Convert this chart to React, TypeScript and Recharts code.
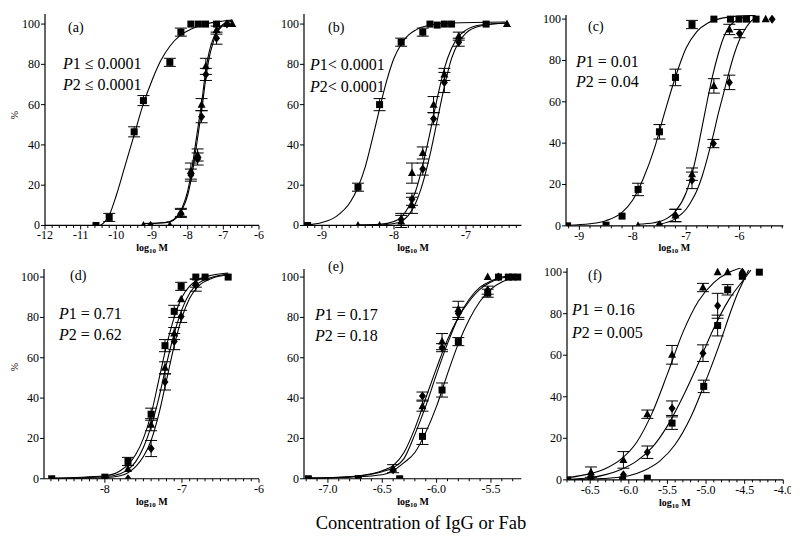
import { ComposedChart, Scatter, Line, XAxis, YAxis, ErrorBar } from 'recharts';

type Pt = { x: number; y: number; e?: number };

// ---------- panel (a)
const aSq: Pt[] = [
  { x: -10.57, y: 0 }, { x: -10.2, y: 4, e: 2 }, { x: -9.5, y: 46.5, e: 2.5 }, { x: -9.24, y: 62, e: 2.5 },
  { x: -8.5, y: 81, e: 2 }, { x: -8.19, y: 96, e: 2 }, { x: -7.91, y: 100 }, { x: -7.7, y: 100 },
  { x: -7.5, y: 100 }, { x: -7.19, y: 100 },
];
const aTri: Pt[] = [
  { x: -9.24, y: 0 }, { x: -8.5, y: 0 }, { x: -8.19, y: 6.5, e: 2 }, { x: -7.91, y: 27, e: 4 },
  { x: -7.72, y: 35, e: 3 }, { x: -7.61, y: 60, e: 3 }, { x: -7.49, y: 79, e: 4 }, { x: -7.19, y: 97, e: 2 },
  { x: -6.9, y: 100 }, { x: -6.75, y: 100 },
];
const aDia: Pt[] = [
  { x: -9.04, y: 0 }, { x: -8.19, y: 6, e: 2 }, { x: -7.91, y: 25, e: 3 }, { x: -7.72, y: 33, e: 3 },
  { x: -7.61, y: 54, e: 3 }, { x: -7.49, y: 75, e: 3 }, { x: -7.19, y: 93, e: 3 }, { x: -6.9, y: 100 },
];
const aFitSq: Pt[] = [
  { x: -10.45, y: 0 }, { x: -10.2, y: 5 }, { x: -10.0, y: 15 }, { x: -9.75, y: 30 }, { x: -9.5, y: 45 },
  { x: -9.25, y: 60 }, { x: -9.0, y: 72 }, { x: -8.75, y: 82 }, { x: -8.5, y: 89 }, { x: -8.2, y: 94.5 },
  { x: -7.9, y: 97.5 }, { x: -7.5, y: 100 }, { x: -7.0, y: 101.5 }, { x: -6.75, y: 102 },
];
const aFitTri: Pt[] = [
  { x: -9.25, y: 1 }, { x: -8.8, y: 1.2 }, { x: -8.5, y: 2 }, { x: -8.3, y: 4.5 }, { x: -8.15, y: 9 },
  { x: -8.0, y: 17 }, { x: -7.9, y: 26 }, { x: -7.8, y: 38 }, { x: -7.7, y: 50 }, { x: -7.6, y: 62 },
  { x: -7.5, y: 76 }, { x: -7.4, y: 86 }, { x: -7.3, y: 92 }, { x: -7.2, y: 96 }, { x: -7.0, y: 100 },
  { x: -6.75, y: 102 },
];
const aFitDia: Pt[] = [
  { x: -9.25, y: 1 }, { x: -8.8, y: 1.2 }, { x: -8.5, y: 1.8 }, { x: -8.3, y: 4 }, { x: -8.15, y: 8 },
  { x: -8.0, y: 15 }, { x: -7.9, y: 23 }, { x: -7.8, y: 34 }, { x: -7.7, y: 46 }, { x: -7.6, y: 58 },
  { x: -7.5, y: 72 }, { x: -7.4, y: 83 }, { x: -7.3, y: 90 }, { x: -7.2, y: 95 }, { x: -7.0, y: 99.5 },
  { x: -6.75, y: 101.5 },
];

// ---------- panel (b)
const bSq: Pt[] = [
  { x: -9.2, y: 0 }, { x: -8.5, y: 19, e: 2 }, { x: -8.2, y: 60, e: 3 }, { x: -7.9, y: 91, e: 2 },
  { x: -7.6, y: 96, e: 2 }, { x: -7.5, y: 100 }, { x: -7.4, y: 99.5 }, { x: -7.3, y: 100 },
  { x: -7.2, y: 100 }, { x: -6.72, y: 100 },
];
const bTri: Pt[] = [
  { x: -8.5, y: 0 }, { x: -8.2, y: 0 }, { x: -7.9, y: 2, e: 3 }, { x: -7.75, y: 10, e: 4 },
  { x: -7.75, y: 26, e: 5 }, { x: -7.6, y: 36, e: 3 }, { x: -7.45, y: 60, e: 4 }, { x: -7.3, y: 75, e: 3 },
  { x: -7.1, y: 94, e: 2 }, { x: -6.43, y: 100 },
];
const bDia: Pt[] = [
  { x: -7.9, y: 3, e: 3 }, { x: -7.75, y: 13, e: 3 }, { x: -7.6, y: 28, e: 3 }, { x: -7.45, y: 53, e: 3 },
  { x: -7.3, y: 71, e: 5 }, { x: -7.1, y: 91, e: 2 },
];
const bFitSq: Pt[] = [
  { x: -9.2, y: 0.3 }, { x: -9.0, y: 1.5 }, { x: -8.8, y: 4.5 }, { x: -8.6, y: 12 }, { x: -8.5, y: 19 },
  { x: -8.4, y: 29 }, { x: -8.3, y: 43 }, { x: -8.2, y: 58 }, { x: -8.1, y: 72 }, { x: -8.0, y: 83 },
  { x: -7.9, y: 90 }, { x: -7.8, y: 94.5 }, { x: -7.7, y: 97 }, { x: -7.5, y: 99.5 }, { x: -7.2, y: 100.5 },
  { x: -6.45, y: 101 },
];
const bFitTri: Pt[] = [
  { x: -8.5, y: 0.3 }, { x: -8.2, y: 0.6 }, { x: -8.0, y: 2 }, { x: -7.9, y: 4 }, { x: -7.8, y: 9 },
  { x: -7.7, y: 17 }, { x: -7.6, y: 30 }, { x: -7.5, y: 46 }, { x: -7.4, y: 63 }, { x: -7.3, y: 78 },
  { x: -7.2, y: 88 }, { x: -7.1, y: 94 }, { x: -7.0, y: 97 }, { x: -6.8, y: 99.5 }, { x: -6.43, y: 100.5 },
];
const bFitDia: Pt[] = [
  { x: -8.2, y: 0.3 }, { x: -8.0, y: 1 }, { x: -7.9, y: 2 }, { x: -7.8, y: 5 }, { x: -7.7, y: 11 },
  { x: -7.6, y: 21 }, { x: -7.5, y: 35 }, { x: -7.4, y: 52 }, { x: -7.3, y: 69 }, { x: -7.2, y: 83 },
  { x: -7.1, y: 91 }, { x: -7.0, y: 95.5 }, { x: -6.8, y: 99 }, { x: -6.43, y: 100.5 },
];

// ---------- panel (c)
const cSq: Pt[] = [
  { x: -9.22, y: 0 }, { x: -8.5, y: 0.3 }, { x: -8.2, y: 4.7 }, { x: -7.9, y: 17.6, e: 3 },
  { x: -7.5, y: 45.5, e: 3.5 }, { x: -7.2, y: 71.8, e: 4 }, { x: -6.89, y: 97.4, e: 2 }, { x: -6.48, y: 100 },
  { x: -6.17, y: 100 }, { x: -6.01, y: 100 }, { x: -5.87, y: 100 }, { x: -5.69, y: 100 },
];
const cTri: Pt[] = [
  { x: -7.9, y: 0 }, { x: -7.2, y: 5, e: 3 }, { x: -6.89, y: 25, e: 3 }, { x: -6.48, y: 67.7, e: 3.5 },
  { x: -6.19, y: 95, e: 2.5 }, { x: -5.51, y: 100 },
];
const cDia: Pt[] = [
  { x: -7.5, y: 0.5 }, { x: -7.2, y: 5, e: 3 }, { x: -6.89, y: 22, e: 4 }, { x: -6.49, y: 39.8, e: 2 },
  { x: -6.19, y: 69.4, e: 3.5 }, { x: -6.0, y: 93, e: 2 }, { x: -5.39, y: 100 },
];
const cFitSq: Pt[] = [
  { x: -9.22, y: 0.3 }, { x: -8.8, y: 1 }, { x: -8.5, y: 2.5 }, { x: -8.2, y: 6.5 }, { x: -8.0, y: 12.5 },
  { x: -7.8, y: 23 }, { x: -7.6, y: 37 }, { x: -7.4, y: 55 }, { x: -7.2, y: 72 }, { x: -7.0, y: 86 },
  { x: -6.8, y: 94 }, { x: -6.6, y: 98 }, { x: -6.4, y: 100 }, { x: -6.0, y: 101.5 }, { x: -5.7, y: 101.8 },
];
const cFitTri: Pt[] = [
  { x: -7.9, y: 0.8 }, { x: -7.6, y: 1.5 }, { x: -7.4, y: 3 }, { x: -7.2, y: 7 }, { x: -7.0, y: 16 },
  { x: -6.9, y: 24 }, { x: -6.8, y: 35 }, { x: -6.7, y: 48 }, { x: -6.6, y: 61 }, { x: -6.5, y: 73 },
  { x: -6.4, y: 83 }, { x: -6.3, y: 91 }, { x: -6.2, y: 96 }, { x: -6.0, y: 100 }, { x: -5.9, y: 101 },
];
const cFitDia: Pt[] = [
  { x: -7.5, y: 0.8 }, { x: -7.2, y: 3.5 }, { x: -7.0, y: 8 }, { x: -6.9, y: 12 }, { x: -6.8, y: 17 },
  { x: -6.7, y: 24 }, { x: -6.6, y: 33 }, { x: -6.5, y: 43 }, { x: -6.4, y: 54 }, { x: -6.3, y: 64 },
  { x: -6.2, y: 74 }, { x: -6.1, y: 83 }, { x: -6.0, y: 90 }, { x: -5.9, y: 95 }, { x: -5.8, y: 98.5 },
  { x: -5.7, y: 101 },
];

// ---------- panel (d)
const dSq: Pt[] = [
  { x: -8.69, y: 0 }, { x: -8.0, y: 0.8 }, { x: -7.7, y: 8.6, e: 2 }, { x: -7.4, y: 32, e: 3 },
  { x: -7.22, y: 66, e: 3 }, { x: -7.1, y: 83, e: 3 }, { x: -7.01, y: 95.4, e: 2 }, { x: -6.82, y: 100 },
  { x: -6.7, y: 100 }, { x: -6.4, y: 100 },
];
const dTri: Pt[] = [
  { x: -8.0, y: 0 }, { x: -7.7, y: 4.8 }, { x: -7.4, y: 26.8, e: 3 }, { x: -7.22, y: 55, e: 3 },
  { x: -7.1, y: 72, e: 3 }, { x: -7.01, y: 89 }, { x: -6.82, y: 97, e: 2 },
];
const dDia: Pt[] = [
  { x: -7.7, y: 0 }, { x: -7.4, y: 15, e: 4 }, { x: -7.22, y: 48, e: 4 }, { x: -7.1, y: 68, e: 4 },
  { x: -7.01, y: 80.5, e: 3 }, { x: -6.82, y: 96, e: 3 },
];
const dFitSq: Pt[] = [
  { x: -8.7, y: 0.3 }, { x: -8.0, y: 1.5 }, { x: -7.8, y: 4 }, { x: -7.7, y: 7 }, { x: -7.6, y: 12 },
  { x: -7.5, y: 20 }, { x: -7.4, y: 32 }, { x: -7.3, y: 49 }, { x: -7.2, y: 66 }, { x: -7.1, y: 80 },
  { x: -7.0, y: 90 }, { x: -6.9, y: 95.5 }, { x: -6.8, y: 98.5 }, { x: -6.6, y: 101 }, { x: -6.4, y: 102 },
];
const dFitTri: Pt[] = [
  { x: -8.7, y: 0.2 }, { x: -8.0, y: 1 }, { x: -7.8, y: 2.5 }, { x: -7.7, y: 4.5 }, { x: -7.6, y: 8.5 },
  { x: -7.5, y: 15.5 }, { x: -7.4, y: 26 }, { x: -7.3, y: 40 }, { x: -7.2, y: 57 }, { x: -7.1, y: 72 },
  { x: -7.0, y: 84 }, { x: -6.9, y: 92 }, { x: -6.8, y: 96.5 }, { x: -6.6, y: 100 }, { x: -6.4, y: 101.5 },
];
const dFitDia: Pt[] = [
  { x: -8.7, y: 0 }, { x: -8.0, y: 0.5 }, { x: -7.8, y: 1.5 }, { x: -7.7, y: 3 }, { x: -7.6, y: 6 },
  { x: -7.5, y: 11 }, { x: -7.4, y: 19 }, { x: -7.3, y: 32 }, { x: -7.2, y: 49 }, { x: -7.1, y: 66 },
  { x: -7.0, y: 80 }, { x: -6.9, y: 89.5 }, { x: -6.8, y: 95 }, { x: -6.6, y: 99.5 }, { x: -6.4, y: 101 },
];

// ---------- panel (e)
const eSq: Pt[] = [
  { x: -7.18, y: 0 }, { x: -6.72, y: 0 }, { x: -6.34, y: 0 }, { x: -6.13, y: 21, e: 4 },
  { x: -5.95, y: 44, e: 3.5 }, { x: -5.8, y: 68, e: 2 }, { x: -5.53, y: 92, e: 2 }, { x: -5.43, y: 100 },
  { x: -5.34, y: 100 }, { x: -5.3, y: 100 }, { x: -5.25, y: 100 },
];
const eTri: Pt[] = [
  { x: -6.4, y: 5, e: 2 }, { x: -6.13, y: 36, e: 2.5 }, { x: -5.95, y: 68, e: 4 }, { x: -5.8, y: 84, e: 4 },
  { x: -5.53, y: 100 },
];
const eDia: Pt[] = [
  { x: -6.4, y: 4.5 }, { x: -6.13, y: 41, e: 2 }, { x: -5.95, y: 65, e: 2 }, { x: -5.8, y: 82, e: 3 },
  { x: -5.53, y: 93.5, e: 2 }, { x: -5.43, y: 100 },
];
const eFitSq: Pt[] = [
  { x: -7.18, y: 0.2 }, { x: -6.8, y: 0.8 }, { x: -6.5, y: 2 }, { x: -6.4, y: 4 }, { x: -6.3, y: 8 },
  { x: -6.2, y: 13 }, { x: -6.1, y: 23 }, { x: -6.0, y: 36 }, { x: -5.9, y: 52 }, { x: -5.8, y: 67 },
  { x: -5.7, y: 79 }, { x: -5.6, y: 88 }, { x: -5.5, y: 94 }, { x: -5.4, y: 97.5 }, { x: -5.3, y: 99.5 },
  { x: -5.22, y: 100.5 },
];
const eFitTri: Pt[] = [
  { x: -7.18, y: 0.3 }, { x: -6.8, y: 1 }, { x: -6.6, y: 2.2 }, { x: -6.5, y: 3.5 }, { x: -6.4, y: 5.5 },
  { x: -6.3, y: 10 }, { x: -6.2, y: 22 }, { x: -6.1, y: 36 }, { x: -6.0, y: 52 }, { x: -5.9, y: 67 },
  { x: -5.8, y: 80 }, { x: -5.7, y: 89 }, { x: -5.6, y: 95 }, { x: -5.5, y: 98 }, { x: -5.4, y: 100 },
  { x: -5.25, y: 101 },
];
const eFitDia: Pt[] = [
  { x: -7.18, y: 0.3 }, { x: -6.8, y: 1 }, { x: -6.6, y: 2.5 }, { x: -6.5, y: 4 }, { x: -6.4, y: 6.5 },
  { x: -6.3, y: 13 }, { x: -6.2, y: 25 }, { x: -6.1, y: 40 }, { x: -6.0, y: 55 }, { x: -5.9, y: 69 },
  { x: -5.8, y: 80 }, { x: -5.7, y: 88 }, { x: -5.6, y: 94 }, { x: -5.5, y: 97.5 }, { x: -5.4, y: 99.5 },
  { x: -5.25, y: 101 },
];

// ---------- panel (f)
const fSq: Pt[] = [
  { x: -6.79, y: 0 }, { x: -6.49, y: 0 }, { x: -6.08, y: 0 }, { x: -5.76, y: 0.8 }, { x: -5.44, y: 27.3, e: 3 },
  { x: -5.03, y: 45, e: 3 }, { x: -4.85, y: 74.3, e: 5 }, { x: -4.72, y: 91.5, e: 2.5 }, { x: -4.53, y: 98 },
  { x: -4.31, y: 100 },
];
const fTri: Pt[] = [
  { x: -6.49, y: 3.7, e: 2.5 }, { x: -6.07, y: 9.6, e: 4 }, { x: -5.76, y: 31.6, e: 2 }, { x: -5.44, y: 60.2, e: 4.5 },
  { x: -5.04, y: 92.6, e: 2 }, { x: -4.85, y: 100 }, { x: -4.72, y: 100 }, { x: -4.53, y: 100 },
];
const fDia: Pt[] = [
  { x: -6.49, y: 1.6 }, { x: -6.07, y: 2.4 }, { x: -5.76, y: 13.3, e: 3 }, { x: -5.44, y: 34.5, e: 3.5 },
  { x: -5.04, y: 61, e: 4 }, { x: -4.85, y: 83.8, e: 6 }, { x: -4.53, y: 100 },
];
const fFitSq: Pt[] = [
  { x: -6.8, y: 0 }, { x: -6.4, y: 0.5 }, { x: -6.2, y: 1 }, { x: -6.0, y: 2 }, { x: -5.8, y: 4.5 },
  { x: -5.6, y: 9 }, { x: -5.4, y: 17 }, { x: -5.2, y: 30 }, { x: -5.0, y: 48 }, { x: -4.8, y: 68 },
  { x: -4.7, y: 79 }, { x: -4.6, y: 89 }, { x: -4.5, y: 97 }, { x: -4.45, y: 101 },
];
const fFitTri: Pt[] = [
  { x: -6.8, y: 1 }, { x: -6.5, y: 3 }, { x: -6.3, y: 5.5 }, { x: -6.1, y: 10 }, { x: -5.9, y: 18 },
  { x: -5.7, y: 32 }, { x: -5.5, y: 51 }, { x: -5.3, y: 71 }, { x: -5.1, y: 86 }, { x: -4.9, y: 95 },
  { x: -4.7, y: 100 }, { x: -4.55, y: 102 },
];
const fFitDia: Pt[] = [
  { x: -6.8, y: 0.3 }, { x: -6.5, y: 1 }, { x: -6.3, y: 2.5 }, { x: -6.1, y: 5 }, { x: -5.9, y: 9 },
  { x: -5.7, y: 15.5 }, { x: -5.5, y: 26 }, { x: -5.3, y: 40 }, { x: -5.1, y: 56 }, { x: -4.9, y: 73 },
  { x: -4.7, y: 87 }, { x: -4.5, y: 97 }, { x: -4.42, y: 101 },
];

// tick labels
const aTicks = [-12, -11, -10, -9, -8, -7, -6];
const bTicks = [-9, -8, -7];
const cTicks = [-9, -8, -7, -6];
const dTicks = [-8, -7, -6];
const eTicks = [-7.0, -6.5, -6.0, -5.5];
const fTicks = [-6.5, -6.0, -5.5, -5.0, -4.5, -4.0];
const yTicks = [0, 20, 40, 60, 80, 100];

const FONT = '"Liberation Serif", "Times New Roman", serif';
const YW = 40;
const MT = 6;
const MR = 8;
const XH = 30;

function Square(props: any) {
  const { cx, cy } = props;
  if (cx == null || cy == null) return null;
  return <rect x={cx - 3.5} y={cy - 3.5} width={7} height={7} fill="#000" />;
}

function Triangle(props: any) {
  const { cx, cy } = props;
  if (cx == null || cy == null) return null;
  return <polygon points={`${cx},${cy - 4.5} ${cx - 4},${cy + 3} ${cx + 4},${cy + 3}`} fill="#000" />;
}

function Diamond(props: any) {
  const { cx, cy } = props;
  if (cx == null || cy == null) return null;
  return <polygon points={`${cx},${cy - 4.5} ${cx + 3.5},${cy} ${cx},${cy + 4.5} ${cx - 3.5},${cy}`} fill="#000" />;
}

interface PanelCfg {
  left: number;
  right: number;
  zeroY: number;
  hundredY: number;
  yMax: number;
  domain: [number, number];
  majors: number[];
  step: number;
  dec: number;
  sq: Pt[];
  tri: Pt[];
  dia: Pt[];
  fits: Pt[][];
}

function Panel({ cfg }: { cfg: PanelCfg }) {
  const { left, right, zeroY, hundredY, yMax, domain, majors, step, dec, sq, tri, dia, fits } = cfg;
  const k = (zeroY - hundredY) / 100;
  const plotTop = zeroY - yMax * k;
  const plotH = zeroY - plotTop;
  const plotW = right - left;
  const axisY = MT + plotH;

  // minor ticks along x
  const xs: number[] = [];
  const start = Math.ceil(domain[0] / step - 1e-6);
  for (let i = start; i * step <= domain[1] + 1e-6; i++) xs.push(Number((i * step).toFixed(3)));
  majors.forEach((m) => { if (!xs.some((v) => Math.abs(v - m) < 1e-6)) xs.push(m); });
  xs.sort((p, q) => p - q);

  const isMajor = (v: number) => majors.some((m) => Math.abs(m - v) < 1e-6);

  const renderXTick = (p: any) => {
    const v = p.payload.value;
    const major = isMajor(v);
    return (
      <g>
        <line x1={p.x} x2={p.x} y1={axisY} y2={axisY + (major ? 4 : 2.5)} stroke="#000" strokeWidth={1} />
        {major && (
          <text x={p.x} y={axisY + 14} textAnchor="middle" fill="#000" style={{ fontFamily: FONT, fontSize: 12 }}>
            {v.toFixed(dec)}
          </text>
        )}
      </g>
    );
  };

  const renderYTick = (p: any) => (
    <g>
      <line x1={YW - 4} x2={YW} y1={p.y} y2={p.y} stroke="#000" strokeWidth={1} />
      <text x={YW - 5} y={p.y + 4} textAnchor="end" fill="#000" style={{ fontFamily: FONT, fontSize: 12 }}>
        {p.payload.value}
      </text>
    </g>
  );

  return (
    <div style={{ position: 'absolute', left: left - YW, top: plotTop - MT }}>
      <ComposedChart
        width={YW + plotW + MR}
        height={MT + plotH + XH}
        margin={{ top: MT, right: MR, bottom: 0, left: 0 }}
      >
        <XAxis
          type="number"
          dataKey="x"
          domain={domain}
          allowDataOverflow
          ticks={xs}
          interval={0}
          height={XH}
          tickLine={false}
          axisLine={{ stroke: '#000', strokeWidth: 1.2 }}
          tick={renderXTick}
        />
        <YAxis
          type="number"
          dataKey="y"
          domain={[0, yMax]}
          allowDataOverflow
          ticks={yTicks}
          interval={0}
          width={YW}
          tickLine={false}
          axisLine={{ stroke: '#000', strokeWidth: 1.2 }}
          tick={renderYTick}
        />
        {fits.map((f, i) => (
          <Line
            key={i}
            data={f}
            dataKey="y"
            type="monotone"
            dot={false}
            stroke="#000"
            strokeWidth={1.1}
            isAnimationActive={false}
          />
        ))}
        <Scatter data={sq} shape={Square} isAnimationActive={false}>
          <ErrorBar dataKey="e" width={6} stroke="#000" strokeWidth={1} direction="y" />
        </Scatter>
        <Scatter data={tri} shape={Triangle} isAnimationActive={false}>
          <ErrorBar dataKey="e" width={6} stroke="#000" strokeWidth={1} direction="y" />
        </Scatter>
        <Scatter data={dia} shape={Diamond} isAnimationActive={false}>
          <ErrorBar dataKey="e" width={6} stroke="#000" strokeWidth={1} direction="y" />
        </Scatter>
      </ComposedChart>
    </div>
  );
}

const panels: PanelCfg[] = [
  { left: 45, right: 259, zeroY: 225.7, hundredY: 24.3, yMax: 105, domain: [-12, -6], majors: aTicks, step: 0.2, dec: 0, sq: aSq, tri: aTri, dia: aDia, fits: [aFitSq, aFitTri, aFitDia] },
  { left: 304.3, right: 521.7, zeroY: 225.7, hundredY: 24.3, yMax: 105, domain: [-9.25, -6.23], majors: bTicks, step: 0.1, dec: 0, sq: bSq, tri: bTri, dia: bDia, fits: [bFitSq, bFitTri, bFitDia] },
  { left: 565.7, right: 783, zeroY: 225.7, hundredY: 19, yMax: 102, domain: [-9.25, -5.18], majors: cTicks, step: 0.2, dec: 0, sq: cSq, tri: cTri, dia: cDia, fits: [cFitSq, cFitTri, cFitDia] },
  { left: 44.3, right: 259.3, zeroY: 479, hundredY: 277.3, yMax: 104, domain: [-8.79, -6], majors: dTicks, step: 0.1, dec: 0, sq: dSq, tri: dTri, dia: dDia, fits: [dFitSq, dFitTri, dFitDia] },
  { left: 304.3, right: 521.7, zeroY: 479, hundredY: 277.3, yMax: 104, domain: [-7.22, -5.22], majors: eTicks, step: 0.1, dec: 1, sq: eSq, tri: eTri, dia: eDia, fits: [eFitSq, eFitTri, eFitDia] },
  { left: 566.7, right: 783, zeroY: 480, hundredY: 272.3, yMax: 102, domain: [-6.8, -4.0], majors: fTicks, step: 0.1, dec: 1, sq: fSq, tri: fTri, dia: fDia, fits: [fFitSq, fFitTri, fFitDia] },
];

// annotation text per panel: letter, P1, P2
const letters = ['(a)', '(b)', '(c)', '(d)', '(e)', '(f)'];
const p1Text = ['1 \u2264 0.0001', '1< 0.0001', '1 = 0.01', '1 = 0.71', '1 = 0.17', '1 = 0.16'];
const p2Text = ['2 \u2264 0.0001', '2< 0.0001', '2 = 0.04', '2 = 0.62', '2 = 0.18', '2 = 0.005'];
const letterPos = [[68, 31.5], [328, 31.5], [588, 30.5], [70, 279.5], [328, 270.5], [588, 279.5]];
const pPos = [[63, 69, 90], [310, 70, 91.5], [576, 66.5, 87], [59, 319, 339.5], [315, 319.5, 340.5], [572, 315, 338]];

export default function App() {
  return (
    <div style={{ position: 'absolute', left: 0, top: 0, width: 800, height: 547, background: '#fff', overflow: 'hidden' }}>
      {panels.map((p, i) => (
        <Panel key={i} cfg={p} />
      ))}
      <svg width={800} height={547} style={{ position: 'absolute', left: 0, top: 0, pointerEvents: 'none', fontFamily: FONT }}>
        {letters.map((l, i) => (
          <text key={l} x={letterPos[i][0]} y={letterPos[i][1]} style={{ fontSize: 14 }}>
            {l}
          </text>
        ))}
        {p1Text.map((t, i) => (
          <g key={i} style={{ fontSize: 16 }}>
            <text x={pPos[i][0]} y={pPos[i][1]}>
              <tspan fontStyle="italic">P</tspan>
              {t}
            </text>
            <text x={pPos[i][0]} y={pPos[i][2]}>
              <tspan fontStyle="italic">P</tspan>
              {p2Text[i]}
            </text>
          </g>
        ))}
        {panels.map((p, i) => (
          <text
            key={'lx' + i}
            x={(p.left + p.right) / 2}
            y={p.zeroY + 25.5}
            textAnchor="middle"
            style={{ fontWeight: 'bold', fontSize: 10 }}
          >
            log
            <tspan fontSize={7} dy={2}>10</tspan>
            <tspan dy={-2}> M</tspan>
          </text>
        ))}
        <text x={18} y={115} style={{ fontSize: 10 }} textAnchor="middle" transform="rotate(-90 18 115)">%</text>
        <text x={18} y={367} style={{ fontSize: 10 }} textAnchor="middle" transform="rotate(-90 18 367)">%</text>
        <text x={421} y={529} style={{ fontSize: 18.5 }} textAnchor="middle">
          Concentration of IgG or Fab
        </text>
      </svg>
    </div>
  );
}
